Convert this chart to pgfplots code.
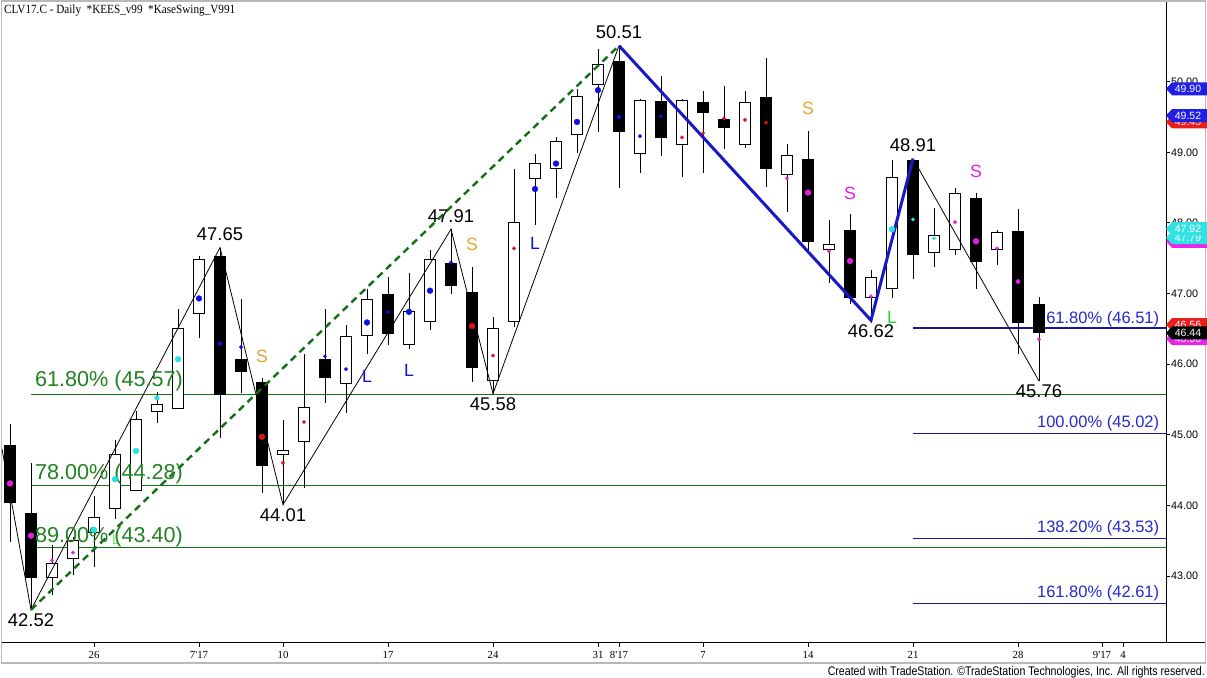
\documentclass[border=0pt]{standalone}
\usepackage{pgfplots}
\pgfplotsset{compat=1.18}
\usepackage{pgfplotstable}
\usepackage{graphicx}
\usepackage{fontspec}
\setmainfont{Liberation Sans}
\newfontfamily\serif{Liberation Serif}
\definecolor{fibgreen}{RGB}{20,115,20}
\definecolor{fibgreentext}{RGB}{35,130,35}
\definecolor{dashgreen}{RGB}{20,110,20}
\definecolor{swingblue}{RGB}{25,25,200}
\definecolor{fibblue}{RGB}{25,25,150}
\definecolor{fibbluetext}{RGB}{40,40,205}
\definecolor{dmag}{RGB}{228,30,228}
\definecolor{dcyan}{RGB}{40,225,225}
\definecolor{dblue}{RGB}{15,15,225}
\definecolor{dred}{RGB}{225,20,20}
\definecolor{sorange}{RGB}{240,160,50}
\definecolor{lgreen}{RGB}{40,215,40}
\definecolor{tagblue}{RGB}{30,30,230}
\definecolor{tagred}{RGB}{235,30,30}
\definecolor{tagcyan}{RGB}{50,225,225}
\definecolor{tagmag}{RGB}{230,40,230}

\pgfplotstableread{
k o h l c
-2 42.98 43.44 42.73 43.18
-1 43.24 43.55 43.01 43.50
0 43.61 44.13 43.13 43.83
1 43.96 44.93 43.80 44.72
2 44.21 45.34 44.20 45.22
3 45.33 45.60 45.16 45.43
4 45.37 46.78 45.36 46.51
5 46.71 47.53 46.37 47.48
9 44.72 45.21 44.01 44.78
10 44.91 46.14 44.24 45.39
12 45.73 46.55 45.31 46.39
13 46.41 47.06 46.15 46.92
15 46.28 47.29 46.21 46.74
16 46.60 47.62 46.49 47.48
19 45.77 46.67 45.58 46.51
20 46.61 48.77 46.53 48.01
21 48.63 48.98 47.97 48.84
22 48.77 49.22 48.35 49.15
23 49.25 49.89 48.99 49.79
24 49.96 50.47 49.29 50.25
26 48.99 49.76 48.70 49.73
28 49.11 49.76 48.65 49.73
31 49.11 49.87 49.06 49.71
33 48.68 49.12 48.15 48.96
35 47.63 48.04 47.15 47.70
37 46.95 47.33 46.62 47.23
38 47.07 48.89 46.93 48.65
40 47.58 48.21 47.37 47.82
41 47.63 48.50 47.54 48.41
43 47.62 47.90 47.40 47.86
}\up

\pgfplotstableread{
k o h l c
-4 44.85 45.15 43.48 44.03
-3 43.89 44.60 42.52 42.97
6 47.53 47.65 44.96 45.56
7 46.07 46.92 45.59 45.89
8 45.75 45.80 44.17 44.56
11 46.07 46.78 45.45 45.81
14 47.00 47.23 46.27 46.42
17 47.43 47.91 46.99 47.10
18 47.02 47.37 45.74 45.95
25 50.29 50.51 48.49 49.29
27 49.73 50.08 48.95 49.20
29 49.71 49.87 48.70 49.56
30 49.47 49.94 49.04 49.35
32 49.78 50.33 48.51 48.76
34 48.91 49.30 47.62 47.73
36 47.90 48.12 46.85 46.94
39 48.89 48.91 47.21 47.54
42 48.35 48.42 47.06 47.44
44 47.89 48.19 46.15 46.58
45 46.85 46.95 45.76 46.44
}\down

\pgfplotstableread{
k p s
-4 44.31 2.9
-3 43.57 2.9
-2 43.22 1.7
-1 43.33 1.7
33 48.63 1.7
34 48.43 2.9
35 47.60 1.7
36 47.46 2.9
37 46.96 1.7
41 48.01 1.7
42 47.74 2.9
43 47.64 1.7
44 47.17 2.1
45 46.35 1.7
}\magdots

\pgfplotstableread{
k p s
0 43.65 2.9
1 44.37 2.9
2 44.77 2.9
3 45.52 2.3
4 46.07 2.9
38 47.91 2.9
39 48.05 1.7
40 47.78 1.7
}\cyandots

\pgfplotstableread{
k p s
5 46.93 2.9
6 46.29 2.1
7 46.24 1.7
11 46.11 1.7
12 45.93 1.7
13 46.59 2.9
14 46.74 1.7
15 46.74 2.9
16 47.04 2.9
17 47.44 1.7
21 48.48 2.9
22 48.84 2.9
23 49.43 2.9
24 49.88 2.9
25 49.50 2.1
26 49.23 1.7
27 49.51 1.7
}\bluedots

\pgfplotstableread{
k p s
8 44.97 2.9
9 44.60 1.7
10 45.18 1.7
18 46.54 2.9
19 46.12 1.7
20 47.64 1.7
28 49.21 1.7
29 49.27 1.7
30 49.48 1.7
31 49.46 1.7
32 49.42 1.7
}\reddots

\newcommand\swf{\fontsize{18.4bp}{20bp}\selectfont}
\newcommand\ltf{\fontsize{17.7bp}{19bp}\selectfont}
\newcommand\ggf{\fontsize{21.6bp}{23bp}\selectfont}
\newcommand\bbf{\fontsize{16.5bp}{18bp}\selectfont}
\newcommand\tgf{\fontsize{10.5bp}{12bp}\selectfont}

\pgfplotsset{
  dots/.style={only marks, mark=*, scatter, forget plot,
    scatter/use mapped color={draw=#1, fill=#1},
    visualization depends on={\thisrow{s} \as \ms},
    scatter/@pre marker code/.append style={/tikz/mark size=\ms bp},
  },
}

\begin{document}
\begin{tikzpicture}[x=1bp,y=1bp]
\useasboundingbox (0,0) rectangle (1207,678);
\fill[white] (0,0) rectangle (1207,678);
\begin{axis}[
  at={(2bp,35bp)}, anchor=south west, scale only axis,
  width=1164bp, height=641bp,
  xmin=-4.381, xmax=51.048, ymin=42.050, ymax=51.129,
  axis x line=bottom, axis y line=right,
  axis line style={-, black, line width=1bp},
  tick align=outside, major tick length=4bp,
  tick style={black, line width=0.8bp},
  xtick={0,5,9,14,19,24,25,29,34,39,44,48,49},
  xticklabels={26,7'17,10,17,24,31,8'17,7,14,21,28,9'17,4},
  xticklabel style={font=\serif\fontsize{10.8bp}{12bp}\selectfont, inner sep=1bp, yshift=-3bp},
  ytick={43,44,45,46,47,48,49,50},
  /pgf/number format/assume math mode=true,
  yticklabel={\pgfmathprintnumber[fixed,fixed zerofill,precision=2]{\tick}},
  yticklabel style={font=\fontsize{10.8bp}{12bp}\selectfont, inner sep=1bp},
  clip=true,
]
% Fibonacci retracement lines (green)
\addplot[fibgreen, line width=1.2bp, forget plot] coordinates {(-3,45.57) (51.048,45.57)};
\addplot[fibgreen, line width=1.2bp, forget plot] coordinates {(-3,44.28) (51.048,44.28)};
\addplot[fibgreen, line width=1.2bp, forget plot] coordinates {(-3,43.40) (51.048,43.40)};
% Fibonacci projection lines (blue)
\addplot[fibblue, line width=1.2bp, forget plot] coordinates {(39,46.51) (51.048,46.51)};
\addplot[fibblue, line width=1.2bp, forget plot] coordinates {(39,45.02) (51.048,45.02)};
\addplot[fibblue, line width=1.2bp, forget plot] coordinates {(39,43.53) (51.048,43.53)};
\addplot[fibblue, line width=1.2bp, forget plot] coordinates {(39,42.61) (51.048,42.61)};

% wicks
\addplot[forget plot, draw=none, error bars/.cd, y dir=both, y explicit, error mark=none,
  error bar style={draw=black, line width=1bp}]
  table[x=k, y expr={(\thisrow{h}+\thisrow{l})/2}, y error expr={(\thisrow{h}-\thisrow{l})/2}] {\up};
\addplot[forget plot, draw=none, error bars/.cd, y dir=both, y explicit, error mark=none,
  error bar style={draw=black, line width=1bp}]
  table[x=k, y expr={(\thisrow{h}+\thisrow{l})/2}, y error expr={(\thisrow{h}-\thisrow{l})/2}] {\down};
% down bodies
\addplot[forget plot, draw=none, error bars/.cd, y dir=both, y explicit, error mark=none,
  error bar style={draw=black, line width=12bp, line cap=butt}]
  table[x=k, y expr={(\thisrow{o}+\thisrow{c})/2}, y error expr={abs(\thisrow{o}-\thisrow{c})/2}] {\down};
% up bodies: outline then white fill
\addplot[forget plot, draw=none, error bars/.cd, y dir=both, y explicit, error mark=none,
  error bar style={draw=black, line width=12bp, line cap=butt}]
  table[x=k, y expr={(\thisrow{o}+\thisrow{c})/2}, y error expr={abs(\thisrow{o}-\thisrow{c})/2+0.0071}] {\up};
\addplot[forget plot, draw=none, error bars/.cd, y dir=both, y explicit, error mark=none,
  error bar style={draw=white, line width=10bp, line cap=butt}]
  table[x=k, y expr={(\thisrow{o}+\thisrow{c})/2}, y error expr={abs(\thisrow{o}-\thisrow{c})/2-0.0071}] {\up};

% swing lines
\addplot[black, line width=0.8bp, forget plot] coordinates {(-4.381,44.80) (-3,42.52) (6,47.65) (9,44.01) (17,47.91) (19,45.58) (25,50.51)};
\addplot[black, line width=0.8bp, forget plot] coordinates {(39,48.91) (45,45.76)};
\addplot[dashgreen, line width=2.4bp, dash pattern=on 7bp off 5bp, forget plot] coordinates {(-3,42.52) (25,50.51)};
\addplot[swingblue, line width=3bp, forget plot] coordinates {(25,50.51) (37,46.62) (39,48.91)};

% indicator dots
\addplot[dots=dmag] table[x=k,y=p] {\magdots};
\addplot[dots=dcyan] table[x=k,y=p] {\cyandots};
\addplot[dots=dblue] table[x=k,y=p] {\bluedots};
\addplot[dots=dred] table[x=k,y=p] {\reddots};

% swing value labels
\node[anchor=base, inner sep=0, font=\swf] at (axis cs:-3,42.29) {42.52};
\node[anchor=base, inner sep=0, font=\swf] at (axis cs:6,47.748) {47.65};
\node[anchor=base, inner sep=0, font=\swf] at (axis cs:9,43.768) {44.01};
\node[anchor=base, inner sep=0, font=\swf] at (axis cs:17,48.003) {47.91};
\node[anchor=base, inner sep=0, font=\swf] at (axis cs:19,45.35) {45.58};
\node[anchor=base, inner sep=0, font=\swf] at (axis cs:25,50.605) {50.51};
\node[anchor=base, inner sep=0, font=\swf] at (axis cs:37,46.38) {46.62};
\node[anchor=base, inner sep=0, font=\swf] at (axis cs:39,49.008) {48.91};
\node[anchor=base, inner sep=0, font=\swf] at (axis cs:45,45.524) {45.76};

% S / L markers
\node[anchor=base, inner sep=0, font=\ltf, text=sorange] at (axis cs:8,46.02) {S};
\node[anchor=base, inner sep=0, font=\ltf, text=sorange] at (axis cs:18,47.61) {S};
\node[anchor=base, inner sep=0, font=\ltf, text=sorange] at (axis cs:34,49.53) {S};
\node[anchor=base, inner sep=0, font=\ltf, text=dblue] at (axis cs:13,45.74) {L};
\node[anchor=base, inner sep=0, font=\ltf, text=dblue] at (axis cs:15,45.82) {L};
\node[anchor=base, inner sep=0, font=\ltf, text=dblue] at (axis cs:21,47.62) {L};
\node[anchor=base, inner sep=0, font=\ltf, text=dmag] at (axis cs:36,48.33) {S};
\node[anchor=base, inner sep=0, font=\ltf, text=dmag] at (axis cs:42,48.65) {S};
\node[anchor=base, inner sep=0, font=\ltf, text=lgreen] at (axis cs:38,46.57) {L};
\node[anchor=base, inner sep=0, font=\fontsize{14bp}{16bp}\selectfont, text=lgreen!70] at (axis cs:1.05,43.44) {L};

% Fibonacci labels
\node[anchor=base west, inner sep=0, font=\ggf, text=fibgreentext] at (axis cs:-2.81,45.676) {61.80\% (45.57)};
\node[anchor=base west, inner sep=0, font=\ggf, text=fibgreentext] at (axis cs:-2.81,44.37) {78.00\% (44.28)};
\node[anchor=base west, inner sep=0, font=\ggf, text=fibgreentext] at (axis cs:-2.81,43.48) {89.00\% (43.40)};
\node[anchor=base east, inner sep=0, font=\bbf, text=fibbluetext] at (axis cs:50.73,46.58) {61.80\% (46.51)};
\node[anchor=base east, inner sep=0, font=\bbf, text=fibbluetext] at (axis cs:50.73,45.10) {100.00\% (45.02)};
\node[anchor=base east, inner sep=0, font=\bbf, text=fibbluetext] at (axis cs:50.73,43.61) {138.20\% (43.53)};
\node[anchor=base east, inner sep=0, font=\bbf, text=fibbluetext] at (axis cs:50.73,42.69) {161.80\% (42.61)};
\end{axis}

% bottom axis extension and outer frame
\draw[black, line width=1bp] (1166,35) -- (1206,35);
\draw[gray!55, line width=1.5bp] (1.5,15) -- (1.5,677) -- (1205.5,677) -- (1205.5,15) -- cycle;

% price tags on the right axis
\newcommand\pricetag[3]{%
  \fill[#1] (1166,#2) -- (1172,#2+6.5) -- (1207,#2+6.5) -- (1207,#2-6.5) -- (1172,#2-6.5) -- cycle;
  \node[text=white, font=\tgf, inner sep=0] at (1188,#2) {#3};}
\pricetag{tagblue}{589.2}{49.90}
\pricetag{tagred}{556.0}{49.43}
\pricetag{tagblue}{562.4}{49.52}
\pricetag{tagmag}{436.7}{47.74}
\pricetag{tagcyan}{440.3}{47.79}
\pricetag{tagcyan}{449.4}{47.92}
\pricetag{tagred}{353.4}{46.56}
\pricetag{tagmag}{339.3}{46.36}
\pricetag{black}{345.0}{46.44}

% title and footer
\node[anchor=base west, inner sep=0, font=\serif\fontsize{12.5bp}{14bp}\selectfont] at (4,664)
  {\resizebox{231bp}{\height}{CLV17.C - Daily\ \ *KEES\_v99\ \ *KaseSwing\_V991}};
\node[anchor=base east, inner sep=0, font=\fontsize{12.5bp}{14bp}\selectfont] at (1205,2.5)
  {\resizebox{377bp}{\height}{Created with TradeStation. ©TradeStation Technologies, Inc. All rights reserved.}};
\end{tikzpicture}
\end{document}
